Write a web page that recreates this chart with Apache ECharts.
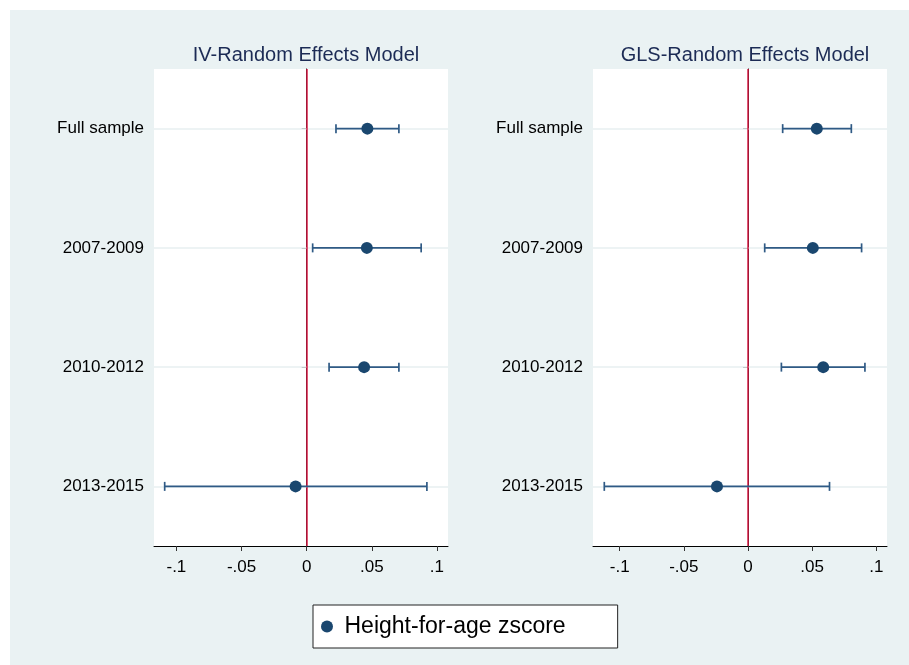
<!DOCTYPE html>
<html>
<head>
<meta charset="utf-8">
<script src="https://cdn.jsdelivr.net/npm/echarts@6/dist/echarts.min.js"></script>
<style>html,body{margin:0;padding:0;background:#fff}#c{width:909px;height:665px}</style>
</head>
<body>
<div id="c"></div>
<script>
// ---- data ----
const categories = ['Full sample', '2007-2009', '2010-2012', '2013-2015'];
const panelTitles = ['IV-Random Effects Model', 'GLS-Random Effects Model'];
const seriesName = 'Height-for-age zscore';
// IV-Random Effects
const ivEst  = [0.0466, 0.0462, 0.0441, -0.0085];
const ivLow  = [0.0225, 0.0046, 0.0172, -0.1090];
const ivHigh = [0.0708, 0.0879, 0.0708, 0.0923];
// GLS-Random Effects
const glsEst  = [0.0536, 0.0505, 0.0586, -0.0242];
const glsLow  = [0.0270, 0.0130, 0.0260, -0.1120];
const glsHigh = [0.0805, 0.0885, 0.0911, 0.0635];
// x ticks
const xTickValues = [-0.1, -0.05, 0, 0.05, 0.1];
const xTickLabels = ['-.1', '-.05', '0', '.05', '.1'];
const refLine = 0;

// ---- styles ----
const FONT = '"Liberation Sans", Arial, sans-serif';
const NAVY = '#1a476f';
const BAR = '#2f5a85';
const RED = '#d81e47';
const GRIDC = '#e7eff1';

const chart = echarts.init(document.getElementById('c'), null, {renderer: 'canvas'});

const grids = [
  {left: 154, top: 69, width: 294, height: 477},
  {left: 593, top: 69, width: 294, height: 477}
];
const xRanges = [[-0.1172, 0.1085], [-0.1208, 0.1083]];

function xAxis(i) {
  return {
    type: 'value', gridIndex: i, min: xRanges[i][0], max: xRanges[i][1],
    axisLine: {show: true, onZero: false, lineStyle: {color: '#000', width: 1}},
    axisTick: {show: true, length: 5, lineStyle: {color: '#333'}, customValues: xTickValues},
    axisLabel: {
      customValues: xTickValues, color: '#000', fontSize: 17, fontFamily: FONT, margin: 13,
      formatter: v => { const k = xTickValues.findIndex(t => Math.abs(t - v) < 1e-9); return k >= 0 ? xTickLabels[k] : ''; }
    },
    splitLine: {show: false}
  };
}
function yAxis(i) {
  return {
    type: 'category', gridIndex: i, data: categories, inverse: true, boundaryGap: true,
    axisLine: {show: true, lineStyle: {color: '#000', width: 1}},
    axisTick: {show: true, alignWithLabel: true, length: 5, lineStyle: {color: '#555'}},
    axisLabel: {color: '#000', fontSize: 17, fontFamily: FONT, margin: 10},
    splitLine: {show: false}
  };
}

function errSeries(i, low, high) {
  return {
    type: 'custom', xAxisIndex: i, yAxisIndex: i, z: 5, silent: true,
    data: categories.map((c, k) => [low[k], high[k], k]),
    encode: {x: [0, 1], y: 2},
    renderItem: function (params, api) {
      const cat = api.value(2);
      const p1 = api.coord([api.value(0), cat]);
      const p2 = api.coord([api.value(1), cat]);
      const h = 4.5;
      const st = {stroke: BAR, lineWidth: 1.7};
      return {type: 'group', children: [
        {type: 'line', shape: {x1: p1[0], y1: p1[1], x2: p2[0], y2: p2[1]}, style: st},
        {type: 'line', shape: {x1: p1[0], y1: p1[1] - h, x2: p1[0], y2: p1[1] + h}, style: st},
        {type: 'line', shape: {x1: p2[0], y1: p2[1] - h, x2: p2[0], y2: p2[1] + h}, style: st}
      ]};
    }
  };
}
function pointSeries(i, est) {
  return {
    type: 'scatter', name: seriesName, xAxisIndex: i, yAxisIndex: i, z: 6,
    symbol: 'circle', symbolSize: 12,
    itemStyle: {color: NAVY, opacity: 1},
    data: categories.map((c, k) => [est[k], k]),
    markLine: {
      silent: true, symbol: 'none', label: {show: false}, z: 1,
      data: categories.map(c => ({yAxis: c, lineStyle: {color: GRIDC, width: 1.5, type: 'solid'}}))
        .concat([{xAxis: refLine, lineStyle: {color: RED, width: 1.5, type: 'solid'}}])
    }
  };
}

const option = {
  backgroundColor: '#ffffff',
  animation: false,
  graphic: [{type: 'rect', z: -10, silent: true, shape: {x: 10, y: 10, width: 899, height: 655}, style: {fill: '#eaf2f3'}}],
  title: [
    {text: panelTitles[0], left: 301, top: 40, textAlign: 'center', textStyle: {color: '#1c2b55', fontSize: 20, fontWeight: 'normal', fontFamily: FONT}},
    {text: panelTitles[1], left: 740, top: 40, textAlign: 'center', textStyle: {color: '#1c2b55', fontSize: 20, fontWeight: 'normal', fontFamily: FONT}}
  ],
  grid: grids.map(g => Object.assign({show: true, backgroundColor: '#fff', borderWidth: 0, containLabel: false}, g)),
  xAxis: [xAxis(0), xAxis(1)],
  yAxis: [yAxis(0), yAxis(1)],
  legend: {
    data: [seriesName], left: 313, top: 605,
    backgroundColor: '#fff', borderColor: '#222', borderWidth: 1,
    padding: [10, 52, 10, 8],
    icon: 'circle', itemWidth: 25, itemHeight: 12,
    textStyle: {color: '#000', fontSize: 23, fontFamily: FONT, lineHeight: 22},
    selectedMode: false
  },
  series: [
    errSeries(0, ivLow, ivHigh), pointSeries(0, ivEst),
    errSeries(1, glsLow, glsHigh), pointSeries(1, glsEst)
  ]
};
chart.setOption(option);
</script>
</body>
</html>
